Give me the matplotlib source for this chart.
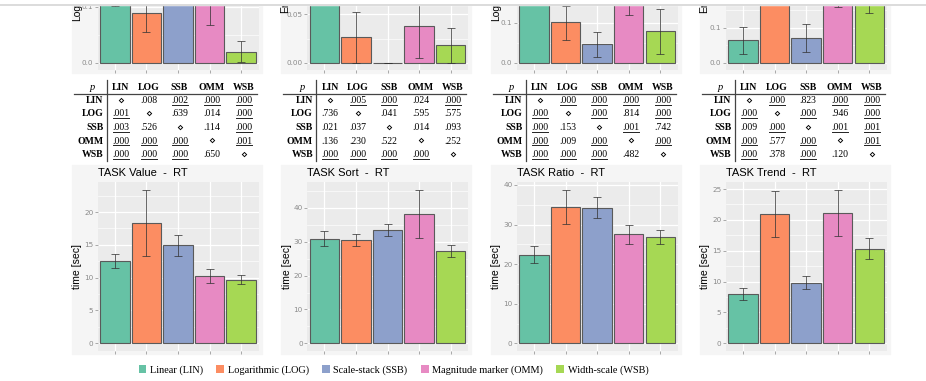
import matplotlib

matplotlib.use("Agg")
import matplotlib.pyplot as plt
from matplotlib.patches import Patch, Rectangle
from matplotlib.ticker import MultipleLocator, FormatStrFormatter

# ---- data -------------------------------------------------------------------
techniques = ["LIN", "LOG", "SSB", "OMM", "WSB"]
legend_names = [
    "Linear (LIN)",
    "Logarithmic (LOG)",
    "Scale-stack (SSB)",
    "Magnitude marker (OMM)",
    "Width-scale (WSB)",
]
colors = ["#66C2A5", "#FC8D62", "#8DA0CB", "#E78AC3", "#A6D854"]
tasks = ["Value", "Sort", "Ratio", "Trend"]

# top row (error measure, cropped at the top of the picture)
top_ylabels = ["Log-error", "Error", "Log-error", "Error"]
top_mean = {
    "Value": [0.135, 0.089, 0.150, 0.120, 0.020],
    "Sort": [0.075, 0.0266, 0.0, 0.038, 0.018],
    "Ratio": [0.190, 0.1008, 0.046, 0.160, 0.079],
    "Trend": [0.064, 0.210, 0.0695, 0.200, 0.175],
}
top_lo = {
    "Value": [0.102, 0.055, 0.115, 0.067, 0.002],
    "Sort": [0.062, 0.0, 0.0, 0.0045, 0.0],
    "Ratio": [0.160, 0.058, 0.015, 0.119, 0.023],
    "Trend": [0.024, 0.170, 0.029, 0.160, 0.141],
}
top_hi = {
    "Value": [0.170, 0.123, 0.185, 0.173, 0.039],
    "Sort": [0.088, 0.0528, 0.0, 0.072, 0.0355],
    "Ratio": [0.220, 0.143, 0.077, 0.200, 0.135],
    "Trend": [0.103, 0.250, 0.110, 0.240, 0.210],
}

# bottom row (response time)
rt_mean = {
    "Value": [12.54, 18.38, 14.92, 10.25, 9.64],
    "Sort": [30.85, 30.45, 33.4, 38.2, 27.2],
    "Ratio": [22.36, 34.5, 34.3, 27.6, 26.9],
    "Trend": [7.97, 20.96, 9.75, 21.1, 15.36],
}
rt_lo = {
    "Value": [11.42, 13.25, 13.3, 9.24, 9.04],
    "Sort": [28.8, 28.9, 31.6, 31.1, 25.5],
    "Ratio": [20.17, 30.1, 31.6, 25.2, 25.06],
    "Trend": [7.0, 17.19, 8.78, 17.45, 13.7],
}
rt_hi = {
    "Value": [13.65, 23.4, 16.55, 11.37, 10.46],
    "Sort": [33.1, 32.3, 35.3, 45.4, 29.1],
    "Ratio": [24.64, 38.8, 37.05, 29.96, 28.7],
    "Trend": [8.94, 24.73, 10.94, 24.9, 17.0],
}

# pairwise p-values, "d" marks the diagonal
p_values = {
    "Value": [
        ["d", ".008", ".002", ".000", ".000"],
        [".001", "d", ".639", ".014", ".000"],
        [".003", ".526", "d", ".114", ".000"],
        [".000", ".000", ".000", "d", ".001"],
        [".000", ".000", ".000", ".650", "d"],
    ],
    "Sort": [
        ["d", ".005", ".000", ".024", ".000"],
        [".736", "d", ".041", ".595", ".575"],
        [".021", ".037", "d", ".014", ".093"],
        [".136", ".230", ".522", "d", ".252"],
        [".000", ".000", ".000", ".000", "d"],
    ],
    "Ratio": [
        ["d", ".000", ".000", ".000", ".000"],
        [".000", "d", ".000", ".814", ".000"],
        [".000", ".153", "d", ".001", ".742"],
        [".000", ".009", ".000", "d", ".000"],
        [".000", ".000", ".000", ".482", "d"],
    ],
    "Trend": [
        ["d", ".000", ".823", ".000", ".000"],
        [".000", "d", ".000", ".946", ".000"],
        [".009", ".000", "d", ".001", ".001"],
        [".000", ".577", ".000", "d", ".001"],
        [".000", ".378", ".000", ".120", "d"],
    ],
}
alpha_level = 0.005

# ---- layout (pixels) ----------------------------------------------------------
W, H = 926, 381
panel_left = [97.5, 307, 516.6, 725.6]
panel_w = 161
top_ylim = [(-0.013, 0.112), (-0.0075, 0.0648), (-0.018, 0.157), (-0.021, 0.179)]
top_ticks = [0.1, 0.05, 0.1, 0.1]
top_fmt = ["%.1f", "%.2f", "%.1f", "%.1f"]
top_label_bottom = [21, 13, 21, 13]
bot_major = [5, 10, 10, 5]

fig = plt.figure(figsize=(W / 100, H / 100), dpi=100)
fig.patch.set_facecolor("white")


def px_axes(x0, x1, ytop, ybot):
    return fig.add_axes([x0 / W, 1 - ybot / H, (x1 - x0) / W, (ybot - ytop) / H])


def style_panel(ax):
    ax.set_facecolor("#EBEBEB")
    for s in ax.spines.values():
        s.set_visible(False)
    ax.set_axisbelow(True)
    ax.grid(which="major", color="white", linewidth=0.9)
    ax.grid(which="minor", axis="y", color="white", linewidth=0.45)
    ax.tick_params(axis="y", which="major", length=2, width=0.5, color="#8a8a8a",
                   labelsize=5.2, labelcolor="#8a8a8a", pad=1)
    ax.tick_params(axis="y", which="minor", length=0)
    ax.tick_params(axis="x", length=2, width=0.5, color="#8a8a8a", labelbottom=False)
    ax.set_xlim(-0.55, len(techniques) - 0.45)
    ax.set_xticks(range(len(techniques)))


def draw_bars(ax, mean, lo, hi):
    x = range(len(techniques))
    err = [[m - l for m, l in zip(mean, lo)], [h - m for m, h in zip(mean, hi)]]
    ax.bar(x, mean, width=0.93, color=colors, edgecolor="#5a5a5a", linewidth=0.8)
    ax.errorbar(x, mean, yerr=err, fmt="none", ecolor="#333333", alpha=0.75,
                elinewidth=0.7, capsize=2.6, capthick=0.7)


# light plot backgrounds
for x0 in panel_left:
    for (yt, yb) in [(5, 73), (165, 354)]:
        fig.add_artist(Rectangle(((x0 - 26) / W, 1 - yb / H), 190 / W, (yb - yt) / H,
                                 transform=fig.transFigure, color="#F5F5F5", zorder=0))

for i, task in enumerate(tasks):
    x0 = panel_left[i]

    # top row
    ax = px_axes(x0, x0 + panel_w, 0, 70)
    style_panel(ax)
    draw_bars(ax, top_mean[task], top_lo[task], top_hi[task])
    ax.set_ylim(*top_ylim[i])
    ax.yaxis.set_major_locator(MultipleLocator(top_ticks[i]))
    ax.yaxis.set_minor_locator(MultipleLocator(top_ticks[i] / 2))
    ax.yaxis.set_major_formatter(FormatStrFormatter(top_fmt[i]))
    fig.text((x0 - 20 - 1.5 * (i % 2)) / W, 1 - top_label_bottom[i] / H, top_ylabels[i],
             rotation=90, ha="center", va="bottom", fontsize=7.5,
             family="Liberation Sans")

    # bottom row
    ax = px_axes(x0, x0 + panel_w, 182, 351)
    style_panel(ax)
    draw_bars(ax, rt_mean[task], rt_lo[task], rt_hi[task])
    top = max(rt_hi[task])
    ax.set_ylim(-0.05 * top, 1.05 * top)
    ax.yaxis.set_major_locator(MultipleLocator(bot_major[i]))
    ax.yaxis.set_minor_locator(MultipleLocator(bot_major[i] / 2))
    ax.set_ylabel("time [sec]", fontsize=7.5, family="Liberation Sans", labelpad=1.5)
    fig.text(x0 / W, 1 - 173 / H, "TASK %s  -  RT" % task, ha="left", va="center",
             fontsize=8, family="Liberation Sans")

# ---- tables ------------------------------------------------------------------
ov = fig.add_axes([0, 0, 1, 1], zorder=10)
ov.set_xlim(0, W)
ov.set_ylim(H, 0)
ov.axis("off")

serif = ["Liberation Serif", "DejaVu Serif"]
col_off = [23, 51, 82, 114, 146]
head_y = 87
row_y = [100.5, 114, 127.5, 141, 154.5]
fs = 7

for i, task in enumerate(tasks):
    x0 = panel_left[i]
    ov.text(x0 - 5, head_y, "p", ha="center", va="center", fontsize=fs + 0.5,
            family=serif, style="italic")
    for c, name in enumerate(techniques):
        ov.text(x0 + col_off[c], head_y, name, ha="center", va="center",
                fontsize=fs, family=serif, weight="bold")
    ov.plot([x0 - 24, x0 + 159], [93.5, 93.5], color="#444444", lw=0.9)
    ov.plot([x0 + 9, x0 + 9], [80, 161], color="#444444", lw=0.9)
    for r, name in enumerate(techniques):
        ov.text(x0 + 6, row_y[r], name, ha="right", va="center", fontsize=fs,
                family=serif, weight="bold")
        for c, val in enumerate(p_values[task][r]):
            cx = x0 + col_off[c]
            if val == "d":
                ov.text(cx, row_y[r], "\u22c4", ha="center", va="center",
                        fontsize=fs + 1, family=["DejaVu Sans"])
                continue
            ov.text(cx, row_y[r], val, ha="center", va="center", fontsize=fs,
                    family=serif)
            if float(val) <= alpha_level:
                ov.plot([cx - 8, cx + 8], [row_y[r] + 4.3, row_y[r] + 4.3],
                        color="#222222", lw=0.7)

# cropped top edge of the page
ov.add_patch(Rectangle((0, 0), W, 4.5, color="white", zorder=5))
ov.plot([0, W], [4.5, 4.5], color="#D5D5D5", lw=1.2, zorder=6)

# ---- legend ------------------------------------------------------------------
handles = [Patch(facecolor=c, edgecolor="none") for c in colors]
fig.legend(handles, legend_names, loc="center", bbox_to_anchor=(0.425, 1 - 370 / H),
           ncol=5, frameon=False, prop={"family": "Liberation Serif", "size": 7.4},
           handlelength=0.75, handleheight=0.75, handletextpad=0.35,
           columnspacing=1.3)

fig.savefig("out.png", dpi=100)
